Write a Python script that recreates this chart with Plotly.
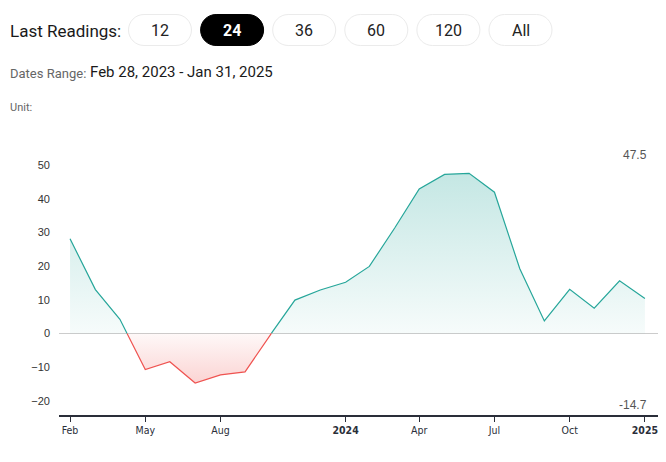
import plotly.graph_objects as go
import pandas as pd

# ---- data ----
dates = pd.date_range("2023-02-28", "2025-01-31", freq="ME")
values = [28.1, 13.0, 4.2, -10.7, -8.4, -14.7, -12.3, -11.4, -0.4, 9.9, 12.9, 15.2,
          19.9, 31.3, 42.9, 47.2, 47.5, 41.9, 19.2, 3.7, 13.1, 7.5, 15.6, 10.4]
tick_idx = [0, 3, 6, 11, 14, 17, 20, 23]
tick_text = ["Feb", "May", "Aug", "<b>2024</b>", "Apr", "Jul", "Oct", "<b>2025</b>"]
y_ticks = [-20, -10, 0, 10, 20, 30, 40, 50]
buttons = ["12", "24", "36", "60", "120", "All"]
active_button = "24"
date_range_text = "Feb 28, 2023 - Jan 31, 2025"

W, H = 666, 462
ML, MR, MT, MB = 59, 8, 147, 47
PW, PH = W - ML - MR, H - MT - MB


def px(x):
    return (x - ML) / PW


def py(y):
    return (H - MB - y) / PH


# ---- split series at zero crossings (for colouring) ----
ts = [d.value for d in dates]
xs, ys = [], []
for i in range(len(values)):
    if i > 0 and (values[i - 1] < 0) != (values[i] < 0) and values[i - 1] != 0 and values[i] != 0:
        v0, v1 = values[i - 1], values[i]
        f = v0 / (v0 - v1)
        t = ts[i - 1] + f * (ts[i] - ts[i - 1])
        xs.append(pd.Timestamp(int(t)))
        ys.append(0.0)
    xs.append(dates[i])
    ys.append(values[i])

pos_fill = [max(v, 0) for v in ys]
neg_fill = [min(v, 0) for v in ys]
pos_line = [v if v >= 0 else None for v in ys]
neg_line = [v if v <= 0 else None for v in ys]

GREEN = "#26a69a"
RED = "#ef5350"

fig = go.Figure()
fig.add_trace(go.Scatter(
    x=xs, y=pos_fill, mode="lines", line=dict(width=0), fill="tozeroy",
    fillgradient=dict(type="vertical",
                      colorscale=[[0, "rgba(38,166,154,0.04)"], [1, "rgba(38,166,154,0.27)"]]),
    hoverinfo="skip", showlegend=False))
fig.add_trace(go.Scatter(
    x=xs, y=neg_fill, mode="lines", line=dict(width=0), fill="tozeroy",
    fillgradient=dict(type="vertical",
                      colorscale=[[0, "rgba(239,83,80,0.25)"], [1, "rgba(239,83,80,0.04)"]]),
    hoverinfo="skip", showlegend=False))
fig.add_trace(go.Scatter(x=xs, y=pos_line, mode="lines", line=dict(color=GREEN, width=1.2),
                         connectgaps=False, showlegend=False))
fig.add_trace(go.Scatter(x=xs, y=neg_line, mode="lines", line=dict(color=RED, width=1.2),
                         connectgaps=False, showlegend=False))

x0 = dates[0] - pd.Timedelta(days=13.5)
x1 = dates[-1] + pd.Timedelta(days=16)

fig.update_layout(
    width=W, height=H, margin=dict(l=ML, r=MR, t=MT, b=MB),
    paper_bgcolor="white", plot_bgcolor="white",
    xaxis=dict(range=[x0, x1], tickvals=[dates[i] for i in tick_idx], ticktext=tick_text,
               showgrid=False, zeroline=False, showline=True, linecolor="#2a2e39", linewidth=1.5,
               ticks="outside", ticklen=5, tickcolor="#2a2e39", tickwidth=1,
               tickfont=dict(family="DejaVu Sans Condensed, Liberation Sans Narrow, Arial", size=10.5,
                             color="#2a2e39")),
    yaxis=dict(range=[-24.2, -24.2 + PH / 3.37], tickvals=y_ticks, showgrid=False,
               zeroline=True, zerolinecolor="#cccccc", zerolinewidth=1, showline=False,
               ticks="", ticklabelstandoff=8,
               tickfont=dict(family="Liberation Sans, Arial", size=11, color="#333333")),
    font=dict(family="Roboto, Arial"),
)

vmax, vmin = max(values), min(values)
fig.add_annotation(xref="paper", yref="y", x=px(649), y=vmax, text=f"{vmax:.1f}", showarrow=False,
                   xanchor="right", yanchor="bottom", yshift=9,
                   font=dict(family="Liberation Sans, Arial", size=12, color="#555555"))
fig.add_annotation(xref="paper", yref="y", x=px(649), y=vmin, text=f"{vmin:.1f}", showarrow=False,
                   xanchor="right", yanchor="top", yshift=-13,
                   font=dict(family="Liberation Sans, Arial", size=12, color="#555555"))

# ---- header ----
fig.add_annotation(xref="paper", yref="paper", x=px(8), y=py(31), text="Last Readings:",
                   showarrow=False, xanchor="left", yanchor="middle",
                   font=dict(family="Roboto", size=17, color="#1a1a1a"))


def pill_path(xa, xb, ya, yb):
    r = (yb - ya) / 2
    k = 0.5523 * r

    def P(x, y):
        return f"{px(x):.5f},{py(y):.5f}"
    d = f"M {P(xa + r, ya)} L {P(xb - r, ya)} "
    d += f"C {P(xb - r + k, ya)} {P(xb, ya + r - k)} {P(xb, ya + r)} "
    d += f"C {P(xb, ya + r + k)} {P(xb - r + k, yb)} {P(xb - r, yb)} "
    d += f"L {P(xa + r, yb)} "
    d += f"C {P(xa + r - k, yb)} {P(xa, ya + r + k)} {P(xa, ya + r)} "
    d += f"C {P(xa, ya + r - k)} {P(xa + r - k, ya)} {P(xa + r, ya)} Z"
    return d


bx0, bw, bstep = 128.5, 63, 72.1
for i, b in enumerate(buttons):
    xa = bx0 + i * bstep
    xb = xa + bw
    active = b == active_button
    fig.add_shape(type="path", xref="paper", yref="paper", path=pill_path(xa, xb, 14.5, 45.5),
                  fillcolor="#000000" if active else "white",
                  line=dict(color="#000000" if active else "#ebebeb", width=1), layer="above")
    fig.add_annotation(xref="paper", yref="paper", x=px((xa + xb) / 2), y=py(30.5),
                       text=f"<b>{b}</b>" if active else b, showarrow=False,
                       xanchor="center", yanchor="middle",
                       font=dict(family="Roboto", size=16, color="white" if active else "#222222"))

fig.add_annotation(xref="paper", yref="paper", x=px(8), y=py(73), text="Dates Range:",
                   showarrow=False, xanchor="left", yanchor="middle",
                   font=dict(family="Roboto", size=13, color="#666666"))
fig.add_annotation(xref="paper", yref="paper", x=px(88), y=py(72), text=date_range_text,
                   showarrow=False, xanchor="left", yanchor="middle",
                   font=dict(family="Roboto", size=15, color="#1a1a1a"))
fig.add_annotation(xref="paper", yref="paper", x=px(8), y=py(107), text="Unit:",
                   showarrow=False, xanchor="left", yanchor="middle",
                   font=dict(family="Roboto", size=11, color="#666666"))

fig.write_html("out.html")
